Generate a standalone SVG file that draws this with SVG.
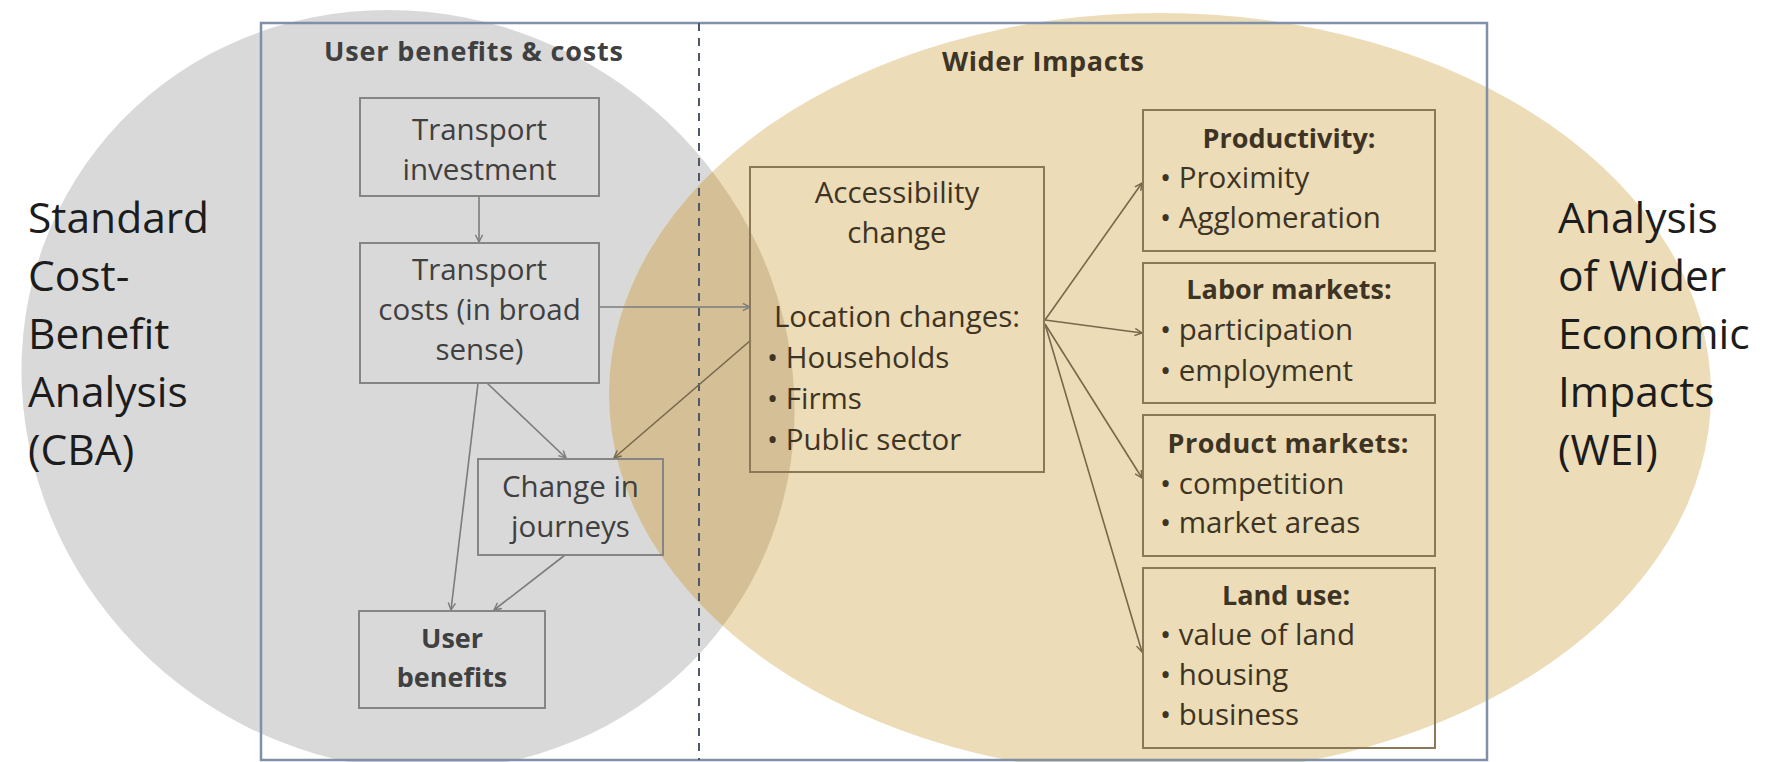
<svg xmlns="http://www.w3.org/2000/svg" width="1770" height="762" viewBox="0 0 1770 762">
  <style>
    .big { font-family: "Open Sans", "Noto Sans", "Liberation Sans", sans-serif; font-size: 42.5px; fill: #1c1c1c; }
    .t { font-family: "Open Sans", "Noto Sans", "Liberation Sans", sans-serif; font-size: 29.5px; }
    .tb { font-family: "Open Sans", "Noto Sans", "Liberation Sans", sans-serif; font-size: 27px; font-weight: bold; }
    .g { fill: #404040; }
    .b { fill: #3e3424; }
    .boxg { fill: none; stroke: #858585; stroke-width: 2; }
    .boxb { fill: none; stroke: #8a7856; stroke-width: 2; }
    .cg { fill: none; stroke: #7c7c7c; stroke-width: 1.6; marker-end: url(#ahg); }
    .cb { fill: none; stroke: #77684a; stroke-width: 1.6; marker-end: url(#ahb); }
    .mid { text-anchor: middle; }
  </style>
  <defs>
    <marker id="ahg" viewBox="0 0 10 10" refX="9" refY="5" markerWidth="9" markerHeight="9" orient="auto" markerUnits="userSpaceOnUse">
      <path d="M1,1 L9,5 L1,9" fill="none" stroke="#7c7c7c" stroke-width="1.6"/>
    </marker>
    <marker id="ahb" viewBox="0 0 10 10" refX="9" refY="5" markerWidth="9" markerHeight="9" orient="auto" markerUnits="userSpaceOnUse">
      <path d="M1,1 L9,5 L1,9" fill="none" stroke="#77684a" stroke-width="1.6"/>
    </marker>
    <clipPath id="grayClip">
      <ellipse cx="0" cy="0" rx="386" ry="380" transform="translate(408,390) skewX(3)"/>
    </clipPath>
  </defs>

  <rect width="1770" height="762" fill="#ffffff"/>

  <g id="circles">
    <ellipse id="cba-circle" cx="0" cy="0" rx="386" ry="380" transform="translate(408,390) skewX(3)" fill="#d9d9d9"/>
    <ellipse id="wei-circle" cx="1160" cy="394" rx="551" ry="381" fill="#ecdcb8"/>
    <ellipse id="overlap" cx="1160" cy="394" rx="551" ry="381" fill="#d4bf97" clip-path="url(#grayClip)"/>
  </g>

  <g id="frame">
    <rect x="261" y="23" width="1226" height="737" fill="none" stroke="#8090a6" stroke-width="2.5"/>
    <line x1="699" y1="23" x2="699" y2="760" stroke="#4f5868" stroke-width="2" stroke-dasharray="8 7"/>
  </g>

  <g id="side-labels">
    <text class="big" x="28" y="233">Standard</text>
    <text class="big" x="28" y="291">Cost-</text>
    <text class="big" x="28" y="349">Benefit</text>
    <text class="big" x="28" y="407">Analysis</text>
    <text class="big" x="28" y="465">(CBA)</text>
    <text class="big" x="1558" y="233">Analysis</text>
    <text class="big" x="1558" y="291">of Wider</text>
    <text class="big" x="1558" y="349">Economic</text>
    <text class="big" x="1558" y="407">Impacts</text>
    <text class="big" x="1558" y="465">(WEI)</text>
  </g>

  <g id="section-titles">
    <text class="tb g" x="324" y="61" font-size="26" textLength="299">User benefits &amp; costs</text>
    <text class="tb b" x="942" y="71" font-size="26" textLength="202">Wider Impacts</text>
  </g>

  <g id="connectors">
    <line class="cg" x1="479" y1="196" x2="479" y2="242"/>
    <line class="cg" x1="599" y1="307" x2="750" y2="307"/>
    <line class="cg" x1="478" y1="383" x2="451" y2="610"/>
    <line class="cg" x1="487" y1="383" x2="566" y2="458"/>
    <line class="cg" x1="565" y1="555" x2="494" y2="610"/>
    <line class="cb" x1="751" y1="340" x2="614" y2="458"/>
    <line class="cb" x1="1045" y1="320" x2="1142" y2="183"/>
    <line class="cb" x1="1045" y1="320" x2="1142" y2="333"/>
    <line class="cb" x1="1045" y1="324" x2="1142" y2="478"/>
    <line class="cb" x1="1045" y1="324" x2="1142" y2="652"/>
  </g>

  <g id="node-transport-investment">
    <rect class="boxg" x="360" y="98" width="239" height="98"/>
    <text class="t g mid" x="479.5" y="140">Transport</text>
    <text class="t g mid" x="479.5" y="180">investment</text>
  </g>

  <g id="node-transport-costs">
    <rect class="boxg" x="360" y="243" width="239" height="140"/>
    <text class="t g mid" x="479.5" y="280">Transport</text>
    <text class="t g mid" x="479.5" y="320">costs (in broad</text>
    <text class="t g mid" x="479.5" y="360">sense)</text>
  </g>

  <g id="node-change-in-journeys">
    <rect class="boxg" x="478" y="459" width="185" height="96"/>
    <text class="t g mid" x="570.5" y="497">Change in</text>
    <text class="t g mid" x="570.5" y="537">journeys</text>
  </g>

  <g id="node-user-benefits">
    <rect class="boxg" x="359" y="611" width="186" height="97"/>
    <text class="tb g mid" x="452" y="648" font-size="26">User</text>
    <text class="tb g mid" x="452" y="687" font-size="26">benefits</text>
  </g>

  <g id="node-accessibility">
    <rect class="boxb" x="750" y="167" width="294" height="305"/>
    <text class="t b mid" x="897" y="203">Accessibility</text>
    <text class="t b mid" x="897" y="243">change</text>
    <text class="t b mid" x="897" y="327">Location changes:</text>
    <text class="t b" x="767" y="368">• Households</text>
    <text class="t b" x="767" y="409">• Firms</text>
    <text class="t b" x="767" y="450">• Public sector</text>
  </g>

  <g id="node-productivity">
    <rect class="boxb" x="1143" y="110" width="292" height="141"/>
    <text class="tb b mid" x="1289" y="148">Productivity:</text>
    <text class="t b" x="1160" y="188">• Proximity</text>
    <text class="t b" x="1160" y="228">• Agglomeration</text>
  </g>

  <g id="node-labor-markets">
    <rect class="boxb" x="1143" y="263" width="292" height="140"/>
    <text class="tb b mid" x="1289" y="299">Labor markets:</text>
    <text class="t b" x="1160" y="340">• participation</text>
    <text class="t b" x="1160" y="381">• employment</text>
  </g>

  <g id="node-product-markets">
    <rect class="boxb" x="1143" y="415" width="292" height="141"/>
    <text class="tb b mid" x="1288" y="453" textLength="241">Product markets:</text>
    <text class="t b" x="1160" y="494">• competition</text>
    <text class="t b" x="1160" y="533">• market areas</text>
  </g>

  <g id="node-land-use">
    <rect class="boxb" x="1143" y="568" width="292" height="180"/>
    <text class="tb b mid" x="1286" y="605">Land use:</text>
    <text class="t b" x="1160" y="645">• value of land</text>
    <text class="t b" x="1160" y="685">• housing</text>
    <text class="t b" x="1160" y="725">• business</text>
  </g>
</svg>
